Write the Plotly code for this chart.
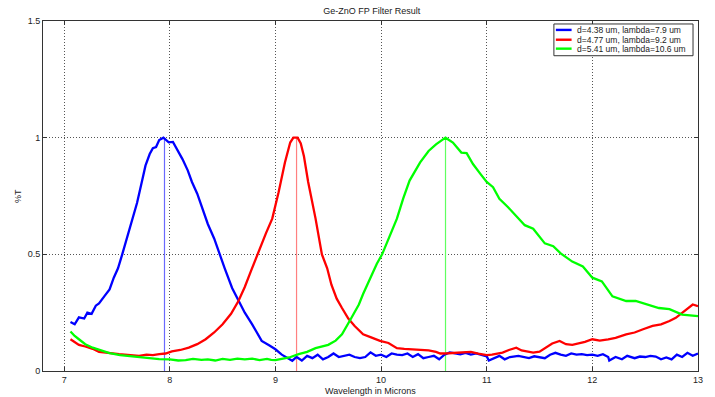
import plotly.graph_objects as go

# ---- data ----
blue_x = [7.06, 7.10, 7.14, 7.19, 7.22, 7.26, 7.30, 7.33, 7.38, 7.43, 7.47, 7.51, 7.55, 7.59, 7.63,
          7.69, 7.74, 7.77, 7.81, 7.84, 7.87, 7.90, 7.94, 7.97, 7.99, 8.03, 8.07, 8.12, 8.17, 8.21,
          8.26, 8.31, 8.36, 8.42, 8.47, 8.52, 8.59, 8.65, 8.71, 8.78, 8.83, 8.87, 8.94, 9.00, 9.06,
          9.11, 9.16, 9.20, 9.25, 9.30, 9.35, 9.40, 9.45, 9.50, 9.55, 9.60, 9.65, 9.70, 9.75, 9.80,
          9.85, 9.90, 9.95, 10.00, 10.05, 10.10, 10.15, 10.20, 10.25, 10.30, 10.35, 10.40, 10.45,
          10.50, 10.55, 10.60, 10.65, 10.70, 10.75, 10.80, 10.85, 10.90, 10.95, 11.00, 11.02, 11.07,
          11.12, 11.17, 11.22, 11.30, 11.35, 11.40, 11.45, 11.50, 11.55, 11.60, 11.65, 11.70, 11.75,
          11.80, 11.85, 11.90, 11.95, 12.00, 12.05, 12.10, 12.15, 12.16, 12.22, 12.28, 12.33, 12.40,
          12.45, 12.50, 12.55, 12.60, 12.65, 12.70, 12.75, 12.80, 12.85, 12.90, 12.95, 13.00]
blue_y = [0.21, 0.20, 0.23, 0.225, 0.25, 0.245, 0.28, 0.29, 0.32, 0.35, 0.40, 0.44, 0.50, 0.56, 0.62,
          0.72, 0.82, 0.88, 0.93, 0.955, 0.96, 0.99, 1.00, 0.99, 0.98, 0.982, 0.95, 0.908, 0.86, 0.81,
          0.76, 0.695, 0.63, 0.568, 0.50, 0.44, 0.356, 0.30, 0.25, 0.20, 0.16, 0.129, 0.11, 0.093, 0.07,
          0.058, 0.044, 0.06, 0.045, 0.065, 0.055, 0.07, 0.05, 0.06, 0.075, 0.06, 0.065, 0.07, 0.06, 0.055,
          0.06, 0.08, 0.065, 0.07, 0.06, 0.075, 0.07, 0.068, 0.075, 0.06, 0.072, 0.055,
          0.06, 0.065, 0.05, 0.07, 0.08, 0.075, 0.072, 0.078, 0.07, 0.075, 0.068, 0.063, 0.045, 0.055,
          0.065, 0.05, 0.06, 0.065, 0.06, 0.055, 0.063, 0.06, 0.055, 0.07, 0.078, 0.07, 0.065,
          0.075, 0.07, 0.072, 0.068, 0.07, 0.065, 0.072, 0.06, 0.045, 0.06, 0.05, 0.065, 0.055,
          0.062, 0.06, 0.065, 0.062, 0.05, 0.058, 0.05, 0.07, 0.06, 0.078, 0.065, 0.075]

red_x = [7.06, 7.10, 7.14, 7.20, 7.27, 7.33, 7.40, 7.46, 7.52, 7.60, 7.66, 7.71, 7.78, 7.84, 7.90,
         7.96, 8.02, 8.10, 8.18, 8.26, 8.34, 8.42, 8.50, 8.58, 8.65, 8.71, 8.77, 8.84, 8.88, 8.91,
         8.97, 9.03, 9.09, 9.14, 9.17, 9.21, 9.24, 9.27, 9.31, 9.38, 9.44, 9.49, 9.53, 9.58, 9.63,
         9.69, 9.75, 9.83, 9.90, 9.99, 10.07, 10.15, 10.22, 10.30, 10.37, 10.45, 10.52, 10.56, 10.64,
         10.71, 10.78, 10.85, 10.92, 11.00, 11.05, 11.10, 11.15, 11.21, 11.28, 11.33, 11.39, 11.44,
         11.50, 11.56, 11.62, 11.69, 11.75, 11.81, 11.87, 11.93, 12.00, 12.07, 12.15, 12.22, 12.32,
         12.40, 12.48, 12.57, 12.65, 12.73, 12.79, 12.85, 12.90, 12.95, 13.00]
red_y = [0.136, 0.125, 0.112, 0.105, 0.095, 0.082, 0.08, 0.076, 0.072, 0.07, 0.068, 0.065, 0.07, 0.068, 0.072,
         0.075, 0.084, 0.09, 0.10, 0.115, 0.136, 0.165, 0.20, 0.245, 0.30, 0.36, 0.43, 0.51, 0.56, 0.59,
         0.653, 0.766, 0.894, 0.979, 1.0, 1.0, 0.975, 0.92, 0.81, 0.653, 0.50, 0.44, 0.37, 0.31, 0.27,
         0.225, 0.193, 0.157, 0.145, 0.129, 0.12, 0.098, 0.095, 0.093, 0.093, 0.088, 0.082, 0.075, 0.076,
         0.078, 0.079, 0.082, 0.074, 0.068, 0.07, 0.075, 0.079, 0.09, 0.10, 0.088, 0.082, 0.079,
         0.083, 0.10, 0.118, 0.129, 0.115, 0.112, 0.118, 0.125, 0.136, 0.13, 0.136, 0.142, 0.157,
         0.165, 0.179, 0.193, 0.20, 0.214, 0.228, 0.249, 0.27, 0.285, 0.278]

green_x = [7.06, 7.10, 7.14, 7.20, 7.27, 7.35, 7.43, 7.53, 7.65, 7.78, 7.90, 8.00, 8.08, 8.15, 8.22,
           8.30, 8.36, 8.43, 8.50, 8.57, 8.64, 8.71, 8.78, 8.85, 8.92, 8.96, 9.00, 9.06, 9.13, 9.22,
           9.30, 9.38, 9.44, 9.50, 9.57, 9.63, 9.72, 9.79, 9.83, 9.90, 9.96, 10.01, 10.08, 10.15,
           10.21, 10.27, 10.37, 10.45, 10.52, 10.61, 10.68, 10.72, 10.76, 10.81, 10.87, 10.94, 11.00,
           11.06, 11.12, 11.20, 11.26, 11.36, 11.44, 11.55, 11.63, 11.70, 11.81, 11.91, 12.00, 12.09,
           12.19, 12.25, 12.32, 12.41, 12.51, 12.63, 12.73, 12.85, 13.00]
green_y = [0.169, 0.15, 0.136, 0.115, 0.10, 0.088, 0.077, 0.068, 0.062, 0.055, 0.051, 0.05, 0.045, 0.047, 0.052,
           0.048, 0.05, 0.045, 0.052, 0.048, 0.053, 0.05, 0.053, 0.047, 0.052, 0.048, 0.047, 0.052, 0.058, 0.072,
           0.082, 0.098, 0.105, 0.112, 0.13, 0.157, 0.228, 0.285, 0.33, 0.40, 0.46, 0.50, 0.575, 0.653,
           0.74, 0.816, 0.894, 0.943, 0.971, 1.0, 0.979, 0.955, 0.936, 0.934, 0.887, 0.845, 0.81,
           0.788, 0.738, 0.703, 0.674, 0.625, 0.61, 0.547, 0.535, 0.504, 0.469, 0.448, 0.40, 0.384,
           0.32, 0.31, 0.30, 0.30, 0.285, 0.27, 0.265, 0.242, 0.235]

series_names = ["d=4.38 um, lambda=7.9 um", "d=4.77 um, lambda=9.2 um", "d=5.41 um, lambda=10.6 um"]
peak_wavelengths = [7.95, 9.2, 10.61]
peak_heights = [1.0, 1.0, 1.0]

x_ticks = [7, 8, 9, 10, 11, 12, 13]
y_ticks = [0, 0.5, 1, 1.5]
y_tick_labels = ["0", "0.5", "1", "1.5"]

# ---- styles ----
curve_colors = ["#0000ff", "#ff0000", "#00ff00"]
marker_colors = ["#6a6aff", "#ff8080", "#60ff60"]
FONT = "Liberation Sans, Arial, sans-serif"
TXT = "#222222"

fig = go.Figure()
for i in range(3):
    fig.add_trace(go.Scatter(
        x=[peak_wavelengths[i], peak_wavelengths[i]], y=[0, peak_heights[i]],
        mode="lines", line=dict(color=marker_colors[i], width=1.2),
        showlegend=False, hoverinfo="skip"))

for xs, ys, name, col in zip([blue_x, red_x, green_x], [blue_y, red_y, green_y], series_names, curve_colors):
    fig.add_trace(go.Scatter(x=xs, y=ys, mode="lines", name=name, showlegend=False,
                             line=dict(color=col, width=2.3)))

axis_common = dict(
    showline=True, linecolor="#333333", linewidth=1, mirror="ticks",
    ticks="inside", ticklen=4, tickcolor="#333333",
    showgrid=True, gridcolor="#555555", griddash="1px,2px", gridwidth=1,
    zeroline=False, tickfont=dict(family=FONT, size=9, color=TXT),
)

fig.update_xaxes(range=[6.8, 13], tickvals=x_ticks, ticktext=[str(v) for v in x_ticks], **axis_common)
fig.update_yaxes(range=[0, 1.5], tickvals=y_ticks, ticktext=y_tick_labels, **axis_common)

# ---- compact legend box (drawn in paper coordinates, like the MATLAB legend) ----
leg_x0, leg_x1, leg_y0, leg_y1 = 0.780, 0.9924, 0.9008, 0.9915
leg_rows = [0.9745, 0.9465, 0.9210]
leg_line_x = (0.783, 0.807)
leg_text_x = 0.8125

shapes = [dict(type="rect", xref="paper", yref="paper", x0=leg_x0, x1=leg_x1, y0=leg_y0, y1=leg_y1,
               line=dict(color="#333333", width=1), fillcolor="white", layer="above")]
annotations = []
for row_y, name, col in zip(leg_rows, series_names, curve_colors):
    shapes.append(dict(type="line", xref="paper", yref="paper", x0=leg_line_x[0], x1=leg_line_x[1],
                       y0=row_y, y1=row_y, line=dict(color=col, width=2.4), layer="above"))
    annotations.append(dict(text=name, xref="paper", yref="paper", x=leg_text_x, y=row_y,
                            xanchor="left", yanchor="middle", showarrow=False,
                            font=dict(family=FONT, size=8.5, color=TXT)))

annotations += [
    dict(text="Wavelength in Microns", xref="paper", yref="paper", x=0.5, y=-0.058,
         xanchor="center", yanchor="middle", showarrow=False, font=dict(family=FONT, size=9, color=TXT)),
    dict(text="%T", xref="paper", yref="paper", x=-0.038, y=0.5, textangle=-90,
         xanchor="center", yanchor="middle", showarrow=False, font=dict(family=FONT, size=9, color=TXT)),
]

fig.update_layout(
    width=715, height=397,
    margin=dict(l=43, r=13, t=21, b=22),
    plot_bgcolor="white", paper_bgcolor="white",
    font=dict(family=FONT, size=9, color=TXT),
    title=dict(text="Ge-ZnO FP Filter Result", x=0.52, xanchor="center", y=0.973, yanchor="middle",
               font=dict(family=FONT, size=9, color=TXT)),
    shapes=shapes,
    annotations=annotations,
    showlegend=False,
)

fig.write_html("out.html")
